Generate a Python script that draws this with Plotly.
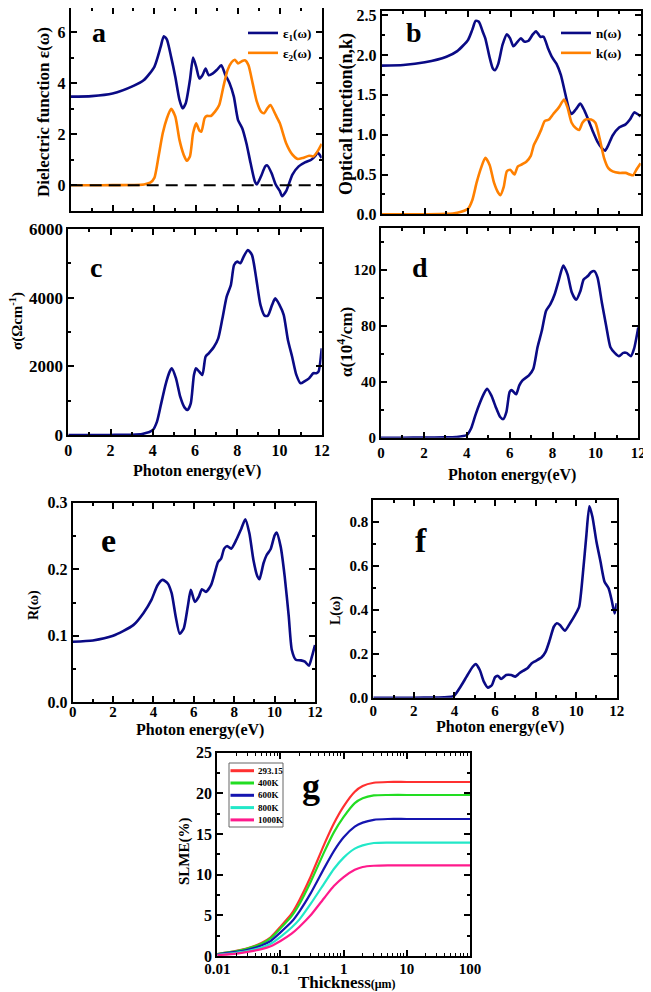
import plotly.graph_objects as go

# target picture size and the page offset (body margin) of the plot div
W, H = 651, 992
OFF = 8
FW, FH = W - OFF, H - OFF
FONT = "Liberation Serif"
NAVY = "#0a0a85"
ORANGE = "#ff8000"

# ---------------- data ----------------
E_EPS1 = [0, 1, 2, 3, 3.5, 4, 4.3, 4.45, 4.6, 4.8, 5.0, 5.2, 5.35, 5.5, 5.7, 5.85, 6.0, 6.15, 6.3, 6.45,
          6.6, 6.8, 7.0, 7.2, 7.4, 7.6, 7.8, 8.0, 8.2, 8.4, 8.6, 8.8, 8.9, 9.1, 9.3, 9.4, 9.6, 9.8, 10.0, 10.1,
          10.3, 10.6, 10.9, 11.2, 11.5, 11.7, 11.8, 12]
EPS1 = [3.48, 3.5, 3.6, 3.9, 4.13, 4.65, 5.43, 5.85, 5.72, 5.04, 4.26, 3.35, 3.02, 3.22, 4.13, 5.01, 4.65, 4.19, 4.32, 4.58,
        4.32, 4.39, 4.54, 4.71, 4.32, 4.0, 3.48, 2.56, 2.24, 1.65, 0.87, 0.16, 0.03, 0.35, 0.74, 0.78, 0.48, 0.03, -0.23, -0.43,
        -0.23, 0.42, 0.74, 0.9, 1.0, 1.16, 1.29, 1.07]

E_EPS2 = [0, 1, 2, 3, 3.5, 3.8, 4.0, 4.2, 4.4, 4.6, 4.8, 5.0, 5.2, 5.4, 5.55, 5.7, 5.85, 6.0, 6.15, 6.25,
          6.4, 6.5, 6.7, 6.9, 7.1, 7.3, 7.5, 7.7, 7.85, 8.0, 8.2, 8.35, 8.5, 8.7, 8.9, 9.1, 9.25, 9.4, 9.55, 9.8,
          10.0, 10.3, 10.6, 10.85, 11.1, 11.4, 11.6, 11.8, 12]
EPS2 = [0, 0, 0.005, 0.01, 0.03, 0.1, 0.29, 1.13, 2.04, 2.63, 3.0, 2.7, 1.78, 1.2, 0.96, 1.13, 2.04, 2.43, 2.15, 2.11,
        2.63, 2.72, 2.72, 2.89, 3.15, 3.87, 4.52, 4.84, 4.93, 4.78, 4.88, 4.9, 4.71, 4.0, 3.28, 2.89, 2.83, 3.02, 3.15, 2.76,
        2.43, 1.65, 1.2, 1.03, 1.07, 1.16, 1.13, 1.33, 1.63]

E_N = [0, 1, 2, 3, 3.5, 4.0, 4.2, 4.35, 4.5, 4.7, 4.8, 5.0, 5.15, 5.25, 5.4, 5.6, 5.8, 5.95, 6.1, 6.3,
       6.45, 6.6, 6.8, 7.0, 7.15, 7.35, 7.5, 7.7, 7.9, 8.1, 8.3, 8.5, 8.7, 8.8, 9.0, 9.2, 9.4, 9.6, 9.8, 10.0,
       10.2, 10.35, 10.5, 10.7, 11.0, 11.3, 11.5, 11.7, 11.85, 12]
N_VAL = [1.868, 1.876, 1.91, 1.98, 2.05, 2.19, 2.32, 2.43, 2.42, 2.28, 2.21, 1.97, 1.83, 1.81, 1.89, 2.13, 2.26, 2.21, 2.11, 2.17,
         2.21, 2.17, 2.18, 2.26, 2.30, 2.23, 2.23, 2.09, 1.97, 1.89, 1.75, 1.52, 1.30, 1.26, 1.32, 1.39, 1.30, 1.17, 1.03, 0.91,
         0.83, 0.80, 0.87, 0.99, 1.09, 1.13, 1.19, 1.28, 1.26, 1.23]

E_K = [0, 1, 2, 3, 3.5, 4.0, 4.2, 4.4, 4.6, 4.8, 5.0, 5.2, 5.4, 5.5, 5.65, 5.8, 5.95, 6.15, 6.3, 6.45,
       6.7, 6.9, 7.05, 7.2, 7.4, 7.55, 7.75, 7.95, 8.2, 8.45, 8.6, 8.8, 9.0, 9.15, 9.3, 9.45, 9.7, 9.9, 10.1, 10.3,
       10.5, 10.7, 11.0, 11.3, 11.5, 11.65, 11.8, 12]
K_VAL = [0, 0, 0.001, 0.005, 0.02, 0.07, 0.18, 0.4, 0.58, 0.71, 0.62, 0.4, 0.27, 0.24, 0.34, 0.54, 0.56, 0.50, 0.60, 0.62,
         0.66, 0.73, 0.87, 0.95, 1.07, 1.17, 1.19, 1.26, 1.34, 1.44, 1.35, 1.15, 1.08, 1.06, 1.15, 1.19, 1.19, 1.15, 0.95, 0.71,
         0.58, 0.54, 0.52, 0.52, 0.50, 0.49, 0.56, 0.64]

E_SIG = [0, 1, 2, 3, 3.5, 4.0, 4.2, 4.4, 4.6, 4.8, 4.9, 5.1, 5.3, 5.5, 5.65, 5.8, 5.95, 6.05, 6.2, 6.35,
         6.5, 6.65, 6.9, 7.1, 7.3, 7.5, 7.7, 7.85, 8.0, 8.15, 8.3, 8.5, 8.7, 8.9, 9.1, 9.3, 9.45, 9.65, 9.8, 10.0,
         10.2, 10.4, 10.6, 10.8, 11.0, 11.2, 11.4, 11.6, 11.75, 11.85, 12]
SIGMA = [0, 0, 2, 8, 30, 145, 390, 920, 1455, 1845, 1940, 1650, 1115, 805, 730, 920, 1750, 1940, 1845, 1750,
         2280, 2380, 2570, 2815, 3400, 4030, 4370, 4950, 5050, 5000, 5190, 5390, 5240, 4560, 3790, 3475, 3475, 3790, 3980, 3790,
         3500, 2770, 2280, 1750, 1505, 1570, 1650, 1800, 1800, 1845, 2525]

E_ALPHA = [0, 1, 2, 3, 3.5, 4.0, 4.2, 4.4, 4.6, 4.8, 4.95, 5.15, 5.35, 5.55, 5.7, 5.85, 6.0, 6.1, 6.3, 6.45,
           6.6, 6.9, 7.1, 7.3, 7.5, 7.7, 7.9, 8.1, 8.3, 8.5, 8.7, 8.9, 9.1, 9.3, 9.45, 9.65, 9.8, 9.95, 10.1, 10.3,
           10.5, 10.7, 10.9, 11.1, 11.3, 11.45, 11.65, 11.8, 12]
ALPHA = [0, 0, 0.05, 0.2, 0.5, 1.9, 6.6, 16, 24.4, 31.5, 35, 30, 22, 15, 13.3, 18.5, 32.7, 34, 31, 37.4,
         41, 44.5, 49, 64.6, 76.4, 90.7, 95.4, 102.5, 113, 123, 116.7, 103.7, 98.5, 104.8, 113, 115.5, 118.3, 119, 114.3, 96.6,
         80, 64.6, 60.6, 58.2, 60.6, 60.6, 58.2, 63.4, 78.8]

E_R = [0, 1, 2, 3, 3.5, 3.9, 4.2, 4.45, 4.7, 4.9, 5.1, 5.3, 5.5, 5.7, 5.85, 6.05, 6.25, 6.4, 6.6, 6.85,
       7.05, 7.2, 7.35, 7.5, 7.65, 7.85, 8.1, 8.35, 8.55, 8.75, 8.95, 9.15, 9.25, 9.45, 9.6, 9.8, 10.0, 10.1, 10.3, 10.5,
       10.7, 10.85, 11.05, 11.3, 11.5, 11.7, 11.85, 12]
R_VAL = [0.0911, 0.093, 0.1, 0.116, 0.134, 0.154, 0.176, 0.184, 0.179, 0.164, 0.129, 0.103, 0.111, 0.144, 0.169, 0.151, 0.159, 0.17, 0.166, 0.176,
         0.196, 0.211, 0.216, 0.231, 0.235, 0.231, 0.244, 0.261, 0.275, 0.254, 0.214, 0.189, 0.185, 0.209, 0.221, 0.23, 0.251, 0.255, 0.234, 0.189,
         0.129, 0.079, 0.064, 0.063, 0.061, 0.055, 0.069, 0.086]

E_L = [0, 1, 2, 3, 3.5, 3.9, 4.0, 4.3, 4.6, 4.9, 5.05, 5.25, 5.45, 5.65, 5.85, 6.0, 6.15, 6.3, 6.55, 6.8,
       7.0, 7.2, 7.4, 7.6, 7.8, 8.0, 8.3, 8.5, 8.7, 8.9, 9.05, 9.2, 9.45, 9.7, 9.95, 10.15, 10.35, 10.5, 10.65, 10.8,
       11.0, 11.2, 11.4, 11.6, 11.75, 11.9, 12]
L_VAL = [0, 0, 0, 0.001, 0.002, 0.005, 0.01, 0.05, 0.096, 0.141, 0.153, 0.126, 0.073, 0.046, 0.058, 0.093, 0.099, 0.085, 0.103, 0.103,
         0.096, 0.111, 0.123, 0.134, 0.156, 0.167, 0.184, 0.21, 0.263, 0.323, 0.339, 0.331, 0.305, 0.339, 0.377, 0.415, 0.582, 0.734, 0.871, 0.825,
         0.711, 0.62, 0.528, 0.498, 0.445, 0.384, 0.43]

THICK = [0.01, 0.02, 0.03, 0.05, 0.07, 0.1, 0.15, 0.2, 0.3, 0.5, 0.7, 1, 1.5, 2, 3, 5, 10, 100]
SLME_LABELS = ["293.15", "400K", "600K", "800K", "1000K"]
SLME_COLORS = ["#ff3030", "#22dd22", "#1515b0", "#22e8c8", "#ff1a8c"]
SLME_293 = [0.25, 0.65, 0.95, 1.6, 2.3, 3.6, 5.2, 6.9, 9.75, 13.85, 16.3, 18.4, 20.2, 20.9, 21.3, 21.4, 21.4, 21.4]
SLME_400 = [0.25, 0.6, 0.9, 1.5, 2.2, 3.4, 4.9, 6.4, 9.1, 12.9, 15.2, 17.1, 18.8, 19.4, 19.75, 19.8, 19.8, 19.8]
SLME_600 = [0.2, 0.5, 0.75, 1.3, 1.85, 2.9, 4.2, 5.5, 7.7, 10.9, 12.9, 14.6, 15.9, 16.4, 16.75, 16.85, 16.85, 16.85]
SLME_800 = [0.15, 0.4, 0.6, 1.05, 1.5, 2.35, 3.5, 4.5, 6.4, 9.0, 10.7, 12.1, 13.2, 13.6, 13.9, 13.95, 13.95, 13.95]
SLME_1000 = [0.1, 0.3, 0.5, 0.85, 1.2, 1.85, 2.75, 3.6, 5.0, 7.2, 8.6, 9.7, 10.6, 10.95, 11.1, 11.15, 11.15, 11.15]

# ---------------- layout helpers (page px -> paper fraction) ----------------
def clamp(v):
    return min(1.0, max(0.0, v))

def fx(x):
    return (x - OFF) / FW

def fy(y):
    return 1 - (y - OFF) / FH

def dx(x0, x1):
    return [clamp(fx(x0)), clamp(fx(x1))]

def dy(y0, y1):
    return [clamp(fy(y1)), clamp(fy(y0))]

BOXES = {
    "a": (70.7, 8, 321.7, 210.7),
    "b": (381.7, 10.5, 640.7, 214.3),
    "c": (68.3, 229, 321.7, 435),
    "d": (381, 227.7, 638.3, 437.7),
    "e": (72.7, 502.7, 315, 702.3),
    "f": (373.3, 500, 616.7, 697.7),
    "g": (217.3, 752.7, 470, 956),
}

def tf(size):
    return dict(family=FONT, size=size, color="black", weight="bold")

def axis_style(fs=15, **kw):
    d = dict(showline=True, linecolor="black", linewidth=2, mirror="allticks",
             ticks="inside", ticklen=6, tickwidth=2, tickcolor="black",
             showgrid=False, zeroline=False, tickfont=tf(fs), automargin=False,
             ticklabeloverflow="allow")
    d.update(kw)
    return d

def minor(dt):
    return dict(ticks="inside", ticklen=3, tickwidth=1.5, tickcolor="black", dtick=dt, showgrid=False)

fig = go.Figure()

def line(x, y, ax, color=NAVY, name=None, legend=None, width=2.6):
    fig.add_trace(go.Scatter(
        x=x, y=y, mode="lines", name=name,
        line=dict(color=color, width=width, shape="spline", smoothing=0.6),
        xaxis="x" + ax, yaxis="y" + ax,
        showlegend=legend is not None, legend=legend))

line(E_EPS1, EPS1, "", NAVY, "ε<sub>1</sub>(ω)", "legend")
line(E_EPS2, EPS2, "", ORANGE, "ε<sub>2</sub>(ω)", "legend")
line(E_N, N_VAL, "2", NAVY, "n(ω)", "legend2")
line(E_K, K_VAL, "2", ORANGE, "k(ω)", "legend2")
line(E_SIG, SIGMA, "3")
line(E_ALPHA, ALPHA, "4")
line(E_R, R_VAL, "5")
line(E_L, L_VAL, "6")
for lab, col, vals in zip(SLME_LABELS, SLME_COLORS, [SLME_293, SLME_400, SLME_600, SLME_800, SLME_1000]):
    line(THICK, vals, "7", col, lab, None, width=2.2)

layout = dict(
    width=FW, height=FH, autosize=False,
    margin=dict(l=0, r=0, t=0, b=0, pad=0, autoexpand=False),
    paper_bgcolor="white", plot_bgcolor="white",
    font=dict(family=FONT, color="black"),
)

energy_ticks = dict(range=[0, 12], dtick=2, tick0=0, minor=minor(1))

layout["xaxis"] = axis_style(domain=dx(BOXES["a"][0], BOXES["a"][2]), anchor="y", showticklabels=False, **energy_ticks)
layout["yaxis"] = axis_style(16, domain=dy(BOXES["a"][1], BOXES["a"][3]), anchor="x", range=[-1, 6.96], dtick=2, tick0=0, minor=minor(1))
layout["xaxis2"] = axis_style(domain=dx(BOXES["b"][0], BOXES["b"][2]), anchor="y2", showticklabels=False, **energy_ticks)
layout["yaxis2"] = axis_style(16, domain=dy(BOXES["b"][1], BOXES["b"][3]), anchor="x2", range=[0, 2.56], dtick=0.5, tick0=0,
                              tickformat=".1f", minor=minor(0.25))
layout["xaxis3"] = axis_style(16, domain=dx(BOXES["c"][0], BOXES["c"][2]), anchor="y3", **energy_ticks)
layout["yaxis3"] = axis_style(17, domain=dy(BOXES["c"][1], BOXES["c"][3]), anchor="x3", range=[0, 6000], dtick=2000, tick0=0, minor=minor(1000))
layout["xaxis4"] = axis_style(15, domain=dx(BOXES["d"][0], BOXES["d"][2]), anchor="y4", **energy_ticks)
layout["yaxis4"] = axis_style(15, domain=dy(BOXES["d"][1], BOXES["d"][3]), anchor="x4", range=[0, 150], dtick=40, tick0=0, minor=minor(20))
layout["xaxis5"] = axis_style(15, domain=dx(BOXES["e"][0], BOXES["e"][2]), anchor="y5", ticklabelstandoff=-5, **energy_ticks)
layout["yaxis5"] = axis_style(16, domain=dy(BOXES["e"][1], BOXES["e"][3]), anchor="x5", range=[0, 0.3], dtick=0.1, tick0=0,
                              tickformat=".1f", minor=minor(0.05))
layout["xaxis6"] = axis_style(15, domain=dx(BOXES["f"][0], BOXES["f"][2]), anchor="y6", ticklabelstandoff=-2, **energy_ticks)
layout["yaxis6"] = axis_style(15, domain=dy(BOXES["f"][1], BOXES["f"][3]), anchor="x6", range=[0, 0.9], dtick=0.2, tick0=0,
                              tickformat=".1f", minor=minor(0.1))
layout["xaxis7"] = axis_style(15, domain=dx(BOXES["g"][0], BOXES["g"][2]), anchor="y7", type="log", range=[-2, 2],
                              tickvals=[0.01, 0.1, 1, 10, 100], ticktext=["0.01", "0.1", "1", "10", "100"],
                              ticklabelstandoff=-2,
                              minor=dict(ticks="inside", ticklen=3, tickwidth=1.2, tickcolor="black", dtick="D1"))
layout["yaxis7"] = axis_style(16, domain=dy(BOXES["g"][1], BOXES["g"][3]), anchor="x7", range=[0, 25], dtick=5, tick0=0, minor=minor(2.5))

leg_common = dict(bgcolor="rgba(0,0,0,0)", xanchor="left", yanchor="top", tracegroupgap=0, itemwidth=30)
layout["legend"] = dict(x=fx(243), y=fy(18), font=tf(13), **leg_common)
layout["legend2"] = dict(x=fx(556), y=fy(18), font=tf(13), **leg_common)

fig.update_layout(**layout)

# zero reference line in panel a
fig.add_shape(type="line", xref="x", yref="y", x0=0, x1=12, y0=0, y1=0,
              line=dict(color="black", width=2, dash="12px,7px"))

def ann(text, x, y, size, angle=0, weight="bold", xanchor="center"):
    fig.add_annotation(text=text, x=fx(x), y=fy(y), xref="paper", yref="paper",
                       showarrow=False, textangle=angle, xanchor=xanchor, yanchor="middle",
                       font=dict(family=FONT, size=size, color="black", weight=weight))

# manual legend for panel g (compact rows)
LEG_G_BOX = (229, 763, 283, 827)
fig.add_shape(type="rect", xref="paper", yref="paper",
              x0=fx(LEG_G_BOX[0]), x1=fx(LEG_G_BOX[2]), y0=fy(LEG_G_BOX[3]), y1=fy(LEG_G_BOX[1]),
              line=dict(color="#666666", width=1), fillcolor="white", layer="above")
for i, (lab, col) in enumerate(zip(SLME_LABELS, SLME_COLORS)):
    ry = 770.7 + i * 12.3
    fig.add_shape(type="line", xref="paper", yref="paper", x0=fx(230.5), x1=fx(254),
                  y0=fy(ry), y1=fy(ry), line=dict(color=col, width=3), layer="above")
    ann(lab, 256, ry, 9, xanchor="left")

# panel letters
for letter, (px, py, fs) in {"a": (99, 32, 28), "b": (414, 32, 28), "c": (96, 268, 28), "d": (420, 268, 28),
                             "e": (108, 540, 34), "f": (421, 540, 34), "g": (311, 786, 36)}.items():
    ann(letter, px, py, fs)

# y-axis titles
ann("Dielectric function ε(ω)", 43, 112, 17, -90)
ann("Optical function(n,k)", 347, 114, 18, -90)
ann("σ(Ωcm<sup>-1</sup>)", 16, 321, 15, -90)
ann("α(10<sup>4</sup>/cm)", 345, 342, 17, -90)
ann("R(ω)", 34, 605, 14, -90)
ann("L(ω)", 336, 611, 14, -90)
ann("SLME(%)", 184, 851, 15, -90)

# x-axis titles
ann("Photon energy(eV)", 197, 471, 16)
ann("Photon energy(eV)", 512, 475, 16)
ann("Photon energy(eV)", 200, 730, 16)
ann("Photon energy(eV)", 500, 727, 16)
ann("Thickness<span style='font-size:12px'>(μm)</span>", 347, 982, 17)

fig.write_html("out.html")
